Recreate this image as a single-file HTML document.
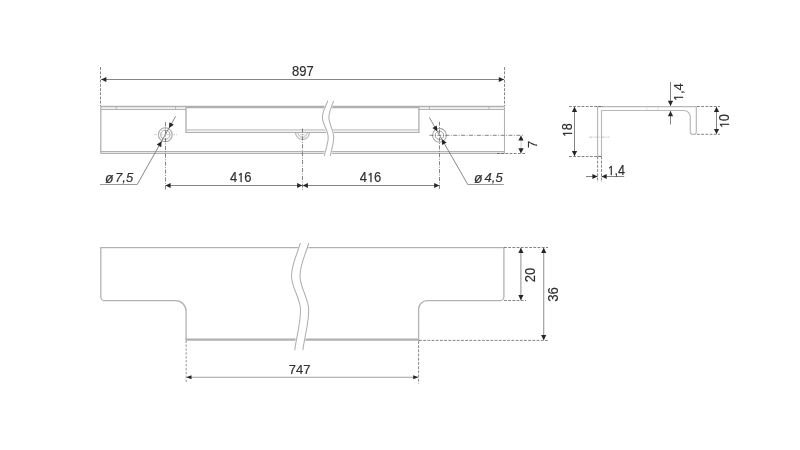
<!DOCTYPE html>
<html><head><meta charset="utf-8"><title>Drawing</title>
<style>
html,body{margin:0;padding:0;background:#fff;}
body{width:800px;height:450px;overflow:hidden;}
svg{display:block;will-change:transform;font-family:"Liberation Sans",sans-serif;}
text{stroke:#2e2e2e;stroke-width:0.15px;stroke-linejoin:round;}
.n1{font-family:"NanumGothic","Liberation Sans",sans-serif;font-size:11.8px;stroke-width:0.4px;}
</style></head>
<body>
<svg width="800" height="450" viewBox="0 0 800 450">
<rect width="800" height="450" fill="#fff"/>
<rect x="100.8" y="106.5" width="85.2" height="3.0" fill="#f3f3f3"/>
<rect x="418.9" y="106.5" width="85.6" height="3.0" fill="#f3f3f3"/>
<rect x="100.8" y="151.5" width="403.7" height="2.0" fill="#e6e6e6"/>
<rect x="186.0" y="129.9" width="232.9" height="2.6" fill="#f2f2f2"/>
<path d="M100.8,153.5 L100.8,106.5 L504.5,106.5" stroke="#b2b2b2" stroke-width="1.3" fill="none"/>
<path d="M504.5,106.5 L504.5,153.5" stroke="#b2b2b2" stroke-width="1.1" fill="none"/>
<line x1="100.8" y1="153.5" x2="504.5" y2="153.5" stroke="#b2b2b2" stroke-width="1.1"/>
<line x1="100.8" y1="109.5" x2="186.0" y2="109.5" stroke="#b2b2b2" stroke-width="1.1"/>
<line x1="418.9" y1="109.5" x2="504.5" y2="109.5" stroke="#b2b2b2" stroke-width="1.1"/>
<line x1="100.8" y1="151.5" x2="504.5" y2="151.5" stroke="#b2b2b2" stroke-width="1.1"/>
<line x1="186.0" y1="107.15" x2="418.9" y2="107.15" stroke="#b0b0b0" stroke-width="2.2"/>
<line x1="116.2" y1="106.5" x2="116.2" y2="109.5" stroke="#b2b2b2" stroke-width="1"/>
<line x1="175.6" y1="106.5" x2="175.6" y2="109.5" stroke="#b2b2b2" stroke-width="1"/>
<line x1="429.4" y1="106.5" x2="429.4" y2="109.5" stroke="#b2b2b2" stroke-width="1"/>
<line x1="489" y1="106.5" x2="489" y2="109.5" stroke="#b2b2b2" stroke-width="1"/>
<path d="M186.0,106.5 L186.0,133.0" stroke="#b2b2b2" stroke-width="1.4" fill="none"/>
<path d="M418.9,106.5 L418.9,133.0" stroke="#b2b2b2" stroke-width="1.4" fill="none"/>
<line x1="186.0" y1="132.5" x2="418.9" y2="132.5" stroke="#b0b0b0" stroke-width="1.05"/>
<line x1="186.0" y1="129.9" x2="418.9" y2="129.9" stroke="#c6c6c6" stroke-width="1.4"/>
<circle cx="165.3" cy="134.7" r="6.9" fill="#fff" stroke="#a8a8a8" stroke-width="1.1"/>
<circle cx="165.3" cy="134.7" r="4.6" fill="none" stroke="#a8a8a8" stroke-width="1"/>
<circle cx="439.5" cy="135.3" r="6.9" fill="#fff" stroke="#a8a8a8" stroke-width="1.1"/>
<circle cx="439.5" cy="135.3" r="4.2" fill="none" stroke="#a8a8a8" stroke-width="1"/>
<path d="M295.5,132.5 A7.0,7.0 0 0 0 309.5,132.51" stroke="#b2b2b2" stroke-width="1.1" fill="none"/>
<path d="M297.9,132.5 A4.6,4.8 0 0 0 307.1,132.51" stroke="#b2b2b2" stroke-width="1" fill="none"/>
<line x1="300.0" y1="134.9" x2="305.0" y2="134.9" stroke="#c4c4c4" stroke-width="0.7"/>
<path d="M327.8,100.8 C325.37,107.40 322.4,111.52 322.4,117.3 C322.4,124.30 328.2,130.30 328.2,137.3 C328.2,143.84 325.86,148.52 324.3,156.0 L330.3,156.0 C331.66,148.52 333.7,143.84 333.7,137.3 C333.7,130.30 328.9,124.30 328.9,117.3 C328.9,111.52 331.49,107.40 333.6,100.8 Z" fill="#fff" stroke="#fff" stroke-width="1.8"/>
<path d="M327.8,100.8 C325.37,107.40 322.4,111.52 322.4,117.3 C322.4,124.30 328.2,130.30 328.2,137.3 C328.2,143.84 325.86,148.52 324.3,156.0" stroke="#b0b0b0" stroke-width="1.05" fill="none"/>
<path d="M333.6,100.8 C331.49,107.40 328.9,111.52 328.9,117.3 C328.9,124.30 333.7,130.30 333.7,137.3 C333.7,143.84 331.66,148.52 330.3,156.0" stroke="#b0b0b0" stroke-width="1.05" fill="none"/>
<line x1="165.5" y1="122.2" x2="165.5" y2="190" stroke="#505050" stroke-width="0.7" stroke-dasharray="4 1.5 0.9 1.5"/>
<line x1="302.5" y1="128.5" x2="302.5" y2="190" stroke="#505050" stroke-width="0.7" stroke-dasharray="4 1.5 0.9 1.5"/>
<line x1="439.5" y1="121.7" x2="439.5" y2="190" stroke="#505050" stroke-width="0.7" stroke-dasharray="4 1.5 0.9 1.5"/>
<line x1="154" y1="134.7" x2="177" y2="134.7" stroke="#c0c0c0" stroke-width="0.7" stroke-dasharray="3 1 1 1"/>
<line x1="429.5" y1="135.3" x2="524" y2="135.3" stroke="#505050" stroke-width="0.7" stroke-dasharray="4 1.5 0.9 1.5"/>
<line x1="100.5" y1="67.2" x2="100.5" y2="106" stroke="#505050" stroke-width="0.7" stroke-dasharray="2.8 1.4"/>
<line x1="504.5" y1="67.2" x2="504.5" y2="106" stroke="#505050" stroke-width="0.7" stroke-dasharray="2.8 1.4"/>
<line x1="101" y1="79.5" x2="504" y2="79.5" stroke="#848484" stroke-width="1"/>
<polygon points="101.20,79.50 106.40,76.90 106.40,82.10" fill="#262626"/>
<polygon points="504.00,79.50 498.80,82.10 498.80,76.90" fill="#262626"/>
<text transform="translate(302.9 75.7) scale(1 1.08)" font-size="13" text-anchor="middle" fill="#2e2e2e">897</text>
<line x1="166" y1="185.5" x2="439" y2="185.5" stroke="#848484" stroke-width="1"/>
<polygon points="165.40,185.50 170.60,182.90 170.60,188.10" fill="#262626"/>
<polygon points="302.30,185.50 297.10,188.10 297.10,182.90" fill="#262626"/>
<polygon points="302.70,185.50 307.90,182.90 307.90,188.10" fill="#262626"/>
<polygon points="439.40,185.50 434.20,188.10 434.20,182.90" fill="#262626"/>
<text transform="translate(240.8 181.7) scale(1 1.1)" font-size="13" text-anchor="middle" fill="#2e2e2e">4<tspan class="n1">1</tspan>6</text>
<text transform="translate(370.5 181.6) scale(1 1.1)" font-size="13" text-anchor="middle" fill="#2e2e2e">4<tspan class="n1">1</tspan>6</text>
<path d="M100,184.5 L137.2,184.5" stroke="#9a9a9a" stroke-width="1" fill="none"/>
<path d="M137.2,184.5 L175.6,116.4" stroke="#7a7a7a" stroke-width="0.9" fill="none"/>
<polygon points="161.57,141.32 161.27,147.13 156.75,144.57" fill="#262626"/>
<polygon points="169.03,128.08 169.33,122.27 173.85,124.83" fill="#262626"/>
<text transform="translate(105.0 181.8) scale(1 1.001)" font-size="13" text-anchor="start" fill="#2e2e2e" font-style="italic"><tspan font-size="14" dy="1">ø</tspan><tspan dx="1.55" dy="-1">7,5</tspan></text>
<path d="M503.8,184.5 L467.8,184.5" stroke="#9a9a9a" stroke-width="1" fill="none"/>
<path d="M467.8,184.5 L429.3,117.4" stroke="#7a7a7a" stroke-width="0.9" fill="none"/>
<polygon points="441.79,139.29 446.64,142.50 442.13,145.09" fill="#262626"/>
<polygon points="437.21,131.31 432.36,128.10 436.87,125.51" fill="#262626"/>
<text transform="translate(474.1 181.8) scale(1 1.001)" font-size="13" text-anchor="start" fill="#2e2e2e" font-style="italic"><tspan font-size="14" dy="1">ø</tspan><tspan dx="1.95" dy="-1">4,5</tspan></text>
<line x1="497" y1="153.5" x2="526" y2="153.5" stroke="#505050" stroke-width="0.7" stroke-dasharray="2.8 1.4"/>
<line x1="521" y1="136" x2="521" y2="153" stroke="#c8c8c8" stroke-width="0.9"/>
<polygon points="521.00,135.40 523.60,140.60 518.40,140.60" fill="#262626"/>
<polygon points="521.00,153.40 518.40,148.20 523.60,148.20" fill="#262626"/>
<text transform="translate(537.1 144.4) rotate(-90) scale(1 1.05)" font-size="13" text-anchor="middle" fill="#2e2e2e">7</text>
<path d="M597.6,156.2 L597.6,106.6 L696.3,106.6 L696.3,132.0 A2.3,2.3 0 0 1 694.0,134.3 L692.6,134.3 A2.3,2.3 0 0 1 690.3,132.0 L690.3,117.0 A6.5,6.5 0 0 0 683.8,110.5 L601.5,110.5 L601.5,156.2 Z" stroke="#b8b8b8" stroke-width="1.15" fill="none"/>
<line x1="646.8" y1="107" x2="646.8" y2="110" stroke="#d6d6d6" stroke-width="0.7"/>
<line x1="658.0" y1="107" x2="658.0" y2="110" stroke="#d6d6d6" stroke-width="0.7"/>
<line x1="589.4" y1="137.1" x2="609.4" y2="137.1" stroke="#b4b4b4" stroke-width="0.8" stroke-dasharray="3 1 1 1"/>
<line x1="569" y1="106.5" x2="603.2" y2="106.5" stroke="#505050" stroke-width="0.7" stroke-dasharray="2.8 1.4"/>
<line x1="569" y1="156.5" x2="602" y2="156.5" stroke="#505050" stroke-width="0.7" stroke-dasharray="2.8 1.4"/>
<line x1="574.5" y1="107" x2="574.5" y2="156" stroke="#848484" stroke-width="1"/>
<polygon points="574.50,106.70 577.10,111.90 571.90,111.90" fill="#262626"/>
<polygon points="574.50,156.30 571.90,151.10 577.10,151.10" fill="#262626"/>
<text transform="translate(571.9 130.3) rotate(-90) scale(0.98 1.09)" font-size="13" text-anchor="middle" fill="#2e2e2e"><tspan class="n1">1</tspan>8</text>
<line x1="597.6" y1="156.5" x2="597.6" y2="182" stroke="#505050" stroke-width="0.7" stroke-dasharray="2.8 1.4"/>
<line x1="601.5" y1="156.5" x2="601.5" y2="182" stroke="#505050" stroke-width="0.7" stroke-dasharray="2.8 1.4"/>
<line x1="586" y1="176.5" x2="597.6" y2="176.5" stroke="#848484" stroke-width="1"/>
<line x1="601.5" y1="176.5" x2="624.2" y2="176.5" stroke="#848484" stroke-width="1"/>
<polygon points="597.60,176.50 592.40,179.10 592.40,173.90" fill="#262626"/>
<polygon points="601.50,176.50 606.70,173.90 606.70,179.10" fill="#262626"/>
<text transform="translate(616.2 174.8) scale(0.97 1.06)" font-size="13" text-anchor="middle" fill="#2e2e2e"><tspan class="n1">1</tspan>,4</text>
<line x1="670.5" y1="82" x2="670.5" y2="106" stroke="#848484" stroke-width="1"/>
<line x1="670.5" y1="111" x2="670.5" y2="124.5" stroke="#848484" stroke-width="1"/>
<polygon points="670.50,105.90 667.90,100.70 673.10,100.70" fill="#262626"/>
<polygon points="670.50,111.10 673.10,116.30 667.90,116.30" fill="#262626"/>
<text transform="translate(683.4 92.2) rotate(-90) scale(1 1.001)" font-size="13" text-anchor="middle" fill="#2e2e2e"><tspan class="n1">1</tspan>,4</text>
<line x1="697" y1="106.5" x2="720" y2="106.5" stroke="#505050" stroke-width="0.7" stroke-dasharray="2.8 1.4"/>
<line x1="697" y1="134.3" x2="720" y2="134.3" stroke="#505050" stroke-width="0.7" stroke-dasharray="2.8 1.4"/>
<line x1="716.5" y1="107" x2="716.5" y2="134" stroke="#848484" stroke-width="1"/>
<polygon points="716.50,106.70 719.10,111.90 713.90,111.90" fill="#262626"/>
<polygon points="716.50,134.10 713.90,128.90 719.10,128.90" fill="#262626"/>
<text transform="translate(729 121.1) rotate(-90) scale(1 1.09)" font-size="13" text-anchor="middle" fill="#2e2e2e"><tspan class="n1">1</tspan>0</text>
<path d="M186.1,339.7 L186.1,311.2 A10.5,10.5 0 0 0 175.6,300.7 L104.8,300.7 A4,4 0 0 1 100.8,296.7 L100.8,247.7 L503.9,247.7 L503.9,296.7 A4,4 0 0 1 499.9,300.7 L427.1,300.7 A8.5,8.5 0 0 0 418.6,309.2 L418.6,339.7" stroke="#b2b2b2" stroke-width="1.3" fill="none"/>
<line x1="185.5" y1="339.7" x2="419.20000000000005" y2="339.7" stroke="#b0b0b0" stroke-width="2.2"/>
<path d="M300.4,243.0 C296.39,256.32 291.5,264.64 291.5,276.3 C291.5,287.99 300.5,298.01 300.5,309.7 C300.5,323.88 297.02,334.00 294.7,350.2 L302.8,350.2 C305.16,334.00 308.7,323.88 308.7,309.7 C308.7,298.01 300.0,287.99 300.0,276.3 C300.0,264.64 304.84,256.32 308.8,243.0 Z" fill="#fff" stroke="#fff" stroke-width="1.8"/>
<path d="M300.4,243.0 C296.39,256.32 291.5,264.64 291.5,276.3 C291.5,287.99 300.5,298.01 300.5,309.7 C300.5,323.88 297.02,334.00 294.7,350.2" stroke="#b0b0b0" stroke-width="1.05" fill="none"/>
<path d="M308.8,243.0 C304.84,256.32 300.0,264.64 300.0,276.3 C300.0,287.99 308.7,298.01 308.7,309.7 C308.7,323.88 305.16,334.00 302.8,350.2" stroke="#b0b0b0" stroke-width="1.05" fill="none"/>
<line x1="186.2" y1="340.6" x2="186.2" y2="383" stroke="#8a8a8a" stroke-width="0.9" stroke-dasharray="2.4 1.5"/>
<line x1="418.6" y1="341" x2="418.6" y2="383.6" stroke="#505050" stroke-width="0.7" stroke-dasharray="2.8 1.4"/>
<line x1="187" y1="377.2" x2="418" y2="377.2" stroke="#a0a0a0" stroke-width="1.15"/>
<polygon points="186.30,377.20 191.50,375.20 191.50,379.20" fill="#262626"/>
<polygon points="418.40,377.20 413.20,379.20 413.20,375.20" fill="#262626"/>
<text transform="translate(299.7 374.4) scale(1 1.05)" font-size="13" text-anchor="middle" fill="#2e2e2e">747</text>
<line x1="504" y1="247.5" x2="548" y2="247.5" stroke="#505050" stroke-width="0.7" stroke-dasharray="2.8 1.4"/>
<line x1="504" y1="300.5" x2="526" y2="300.5" stroke="#505050" stroke-width="0.7" stroke-dasharray="2.8 1.4"/>
<line x1="419" y1="340.4" x2="548" y2="340.4" stroke="#505050" stroke-width="0.7" stroke-dasharray="2.8 1.4"/>
<line x1="520.9" y1="248" x2="520.9" y2="300" stroke="#999" stroke-width="1.1"/>
<polygon points="520.90,247.70 523.50,252.90 518.30,252.90" fill="#262626"/>
<polygon points="520.90,300.30 518.30,295.10 523.50,295.10" fill="#262626"/>
<text transform="translate(534.7 275.1) rotate(-90) scale(1 1.07)" font-size="13" text-anchor="middle" fill="#2e2e2e">20</text>
<line x1="543.7" y1="248" x2="543.7" y2="340" stroke="#999" stroke-width="1.1"/>
<polygon points="543.70,247.70 546.30,252.90 541.10,252.90" fill="#262626"/>
<polygon points="543.70,340.20 541.10,335.00 546.30,335.00" fill="#262626"/>
<text transform="translate(558.0 294.5) rotate(-90) scale(1 1.09)" font-size="13" text-anchor="middle" fill="#2e2e2e">36</text>
</svg>
</body></html>
